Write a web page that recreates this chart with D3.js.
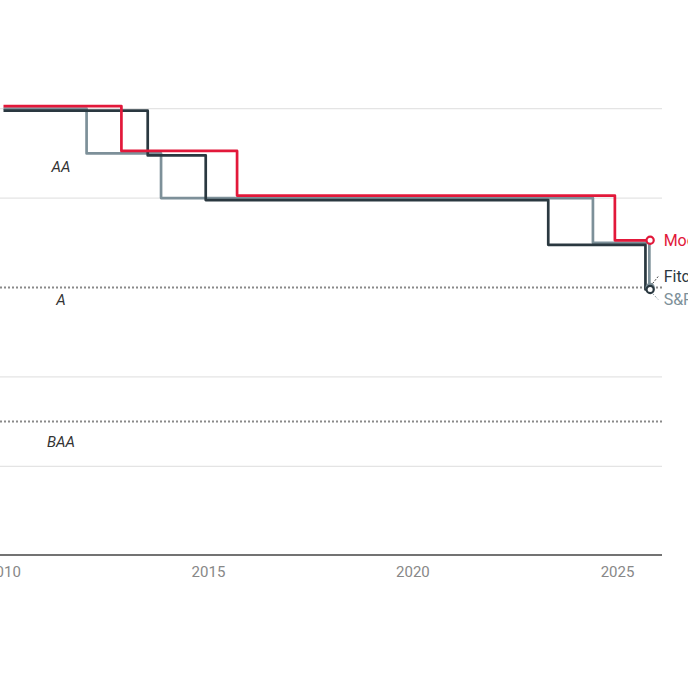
<!DOCTYPE html>
<html>
<head>
<meta charset="utf-8">
<script src="https://cdn.jsdelivr.net/npm/d3@7"></script>
<style>
  html, body { margin: 0; padding: 0; background: #fff; }
  svg { display: block; font-family: Roboto, "Noto Sans", sans-serif; }
</style>
</head>
<body>
<div id="chart"></div>
<script>
// Rating notches: 1 = AAA/Aaa, 2 = AA+/Aa1, 3 = AA/Aa2, 4 = AA-/Aa3, 5 = A+/A1 ...
const moodysDates = ['2010-01-01', '2012-11-19', '2015-09-18', '2024-12-13', '2025-10-24'];
const moodysRatings = [1, 2, 3, 4, 4];

const fitchDates = ['2010-01-01', '2013-07-12', '2014-12-12', '2023-04-28', '2025-09-12', '2025-10-24'];
const fitchRatings = [1, 2, 3, 4, 5, 5];

const spDates = ['2010-01-01', '2012-01-13', '2013-11-08', '2024-05-31', '2025-10-17', '2025-10-24'];
const spRatings = [1, 2, 3, 4, 5, 5];

const gridNotches = [1, 3, 7, 9];
const dottedNotches = [5, 8];
const bandLabels = ['AA', 'A', 'BAA'];
const bandTops = [2, 5, 8];
const tickYears = [2010, 2015, 2020, 2025];

const width = 688, height = 688;
const parse = d3.timeParse('%Y-%m-%d');

const x = d3.scaleTime()
    .domain([new Date(2010, 0, 1), new Date(2025, 0, 1)])
    .range([3.5, 617]);

const y = d3.scaleLinear()
    .domain([1, 9])
    .range([108.7, 466.3]);

const svg = d3.select('#chart')
    .append('svg')
    .attr('width', width)
    .attr('height', height);

const plotRight = 662;

// solid gridlines
svg.append('g')
    .selectAll('line')
    .data(gridNotches)
    .enter()
    .append('line')
    .attr('x1', 0)
    .attr('x2', plotRight)
    .attr('y1', d => y(d))
    .attr('y2', d => y(d))
    .attr('stroke', '#e4e4e4')
    .attr('stroke-width', 1.3);

// dotted category boundaries
svg.append('g')
    .selectAll('line')
    .data(dottedNotches)
    .enter()
    .append('line')
    .attr('x1', 0)
    .attr('x2', plotRight)
    .attr('y1', d => y(d))
    .attr('y2', d => y(d))
    .attr('stroke', '#8a8a8a')
    .attr('stroke-width', 2)
    .attr('stroke-dasharray', '2,2');

// band labels (sit a little below their line)
const labelGap = [13, 12, 20];
svg.append('g')
    .selectAll('text')
    .data(bandLabels)
    .enter()
    .append('text')
    .attr('x', 61)
    .attr('y', (d, i) => y(bandTops[i]) + labelGap[i])
    .attr('dy', '0.35em')
    .attr('text-anchor', 'middle')
    .style('font-style', 'italic')
    .style('font-size', '15px')
    .style('fill', '#333')
    .text(d => d);

// x axis
const xAxis = svg.append('g')
    .attr('transform', 'translate(0,555)')
    .call(d3.axisBottom(x)
        .tickValues(tickYears.map(yr => new Date(yr, 0, 1)))
        .tickFormat(d3.timeFormat('%Y'))
        .tickSize(0)
        .tickPadding(11));

xAxis.select('.domain')
    .attr('d', `M0,0H${plotRight}`)
    .attr('stroke', '#444')
    .attr('stroke-width', 1.6);

xAxis.selectAll('text')
    .style('font-family', 'Roboto, sans-serif')
    .style('font-size', '15px')
    .style('fill', '#888');

// rating lines
const agencies = [
    { name: 'S&P', dates: spDates, ratings: spRatings, color: '#7d9099', offset: 0 },
    { name: 'Fitch', dates: fitchDates, ratings: fitchRatings, color: '#2a3840', offset: 2 },
    { name: "Moody's", dates: moodysDates, ratings: moodysRatings, color: '#e2183a', offset: -2.5 }
];

const line = d3.line()
    .curve(d3.curveStepAfter)
    .x(d => x(d.date))
    .y(d => y(d.rating) + d.offset);

agencies.forEach(a => {
    a.points = a.dates.map((dt, i) => ({ date: parse(dt), rating: a.ratings[i], offset: a.offset }));
});

svg.append('g')
    .selectAll('path')
    .data(agencies)
    .enter()
    .append('path')
    .attr('d', d => line(d.points))
    .attr('fill', 'none')
    .attr('stroke', d => d.color)
    .attr('stroke-width', 2.7)
    .attr('stroke-linejoin', 'round');

// end markers
svg.append('g')
    .selectAll('circle')
    .data(agencies)
    .enter()
    .append('circle')
    .attr('cx', d => x(d.points[d.points.length - 1].date))
    .attr('cy', d => y(d.points[d.points.length - 1].rating) + d.offset)
    .attr('r', 3.6)
    .attr('fill', '#fff')
    .attr('stroke', d => d.color)
    .attr('stroke-width', 2.2);

// end labels
const moodys = agencies[2], fitch = agencies[1], sp = agencies[0];
const endX = x(moodys.points[moodys.points.length - 1].date);

svg.append('text')
    .attr('x', endX + 13.5)
    .attr('y', y(4) + moodys.offset)
    .attr('dy', '0.35em')
    .style('font-size', '16px')
    .style('fill', moodys.color)
    .text(moodys.name);

const fitchY = y(5) + fitch.offset;

// small leader lines
svg.append('line')
    .attr('x1', endX + 2.5).attr('y1', fitchY - 6)
    .attr('x2', endX + 8).attr('y2', fitchY - 13)
    .attr('stroke', '#444').attr('stroke-width', 1).attr('stroke-dasharray', '2,1.5');
svg.append('line')
    .attr('x1', endX + 2.5).attr('y1', fitchY + 4)
    .attr('x2', endX + 8).attr('y2', fitchY + 10)
    .attr('stroke', '#8a9aa2').attr('stroke-width', 1).attr('stroke-dasharray', '2,1.5');

svg.append('text')
    .attr('x', endX + 13.5)
    .attr('y', fitchY - 13)
    .attr('dy', '0.35em')
    .style('font-size', '16px')
    .style('fill', fitch.color)
    .text(fitch.name);

svg.append('text')
    .attr('x', endX + 13.5)
    .attr('y', fitchY + 9.5)
    .attr('dy', '0.35em')
    .style('font-size', '16px')
    .style('fill', sp.color)
    .text(sp.name);
</script>
</body>
</html>
